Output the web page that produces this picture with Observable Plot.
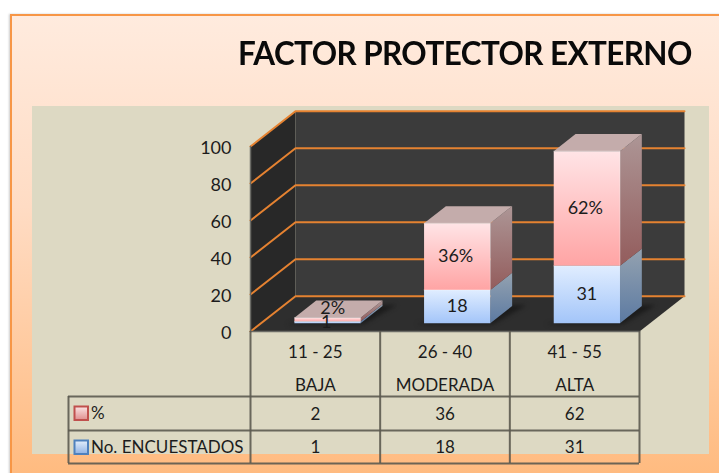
<!DOCTYPE html>
<html>
<head>
<meta charset="utf-8">
<script src="https://cdn.jsdelivr.net/npm/d3@7"></script>
<script src="https://cdn.jsdelivr.net/npm/@observablehq/plot@0.6"></script>
<style>
  html, body { margin: 0; padding: 0; background: #fff; overflow: hidden; }
  #stage { position: relative; width: 719px; height: 473px; overflow: hidden; font-family: Lato, sans-serif; }
  #panel { position: absolute; left: 10px; top: 14px; width: 730px; height: 480px; box-sizing: border-box;
           border: 2px solid #F79646; background: linear-gradient(#FFEBDE, #FFDCC4 40%, #FFBB80 96%); box-shadow: -1px 0 2px #ccc; }
  #plotarea { position: absolute; left: 32px; top: 106px; width: 677px; height: 348px; background: #DDD9C3; }
  #title { position: absolute; left: 238px; top: 30px; font-weight: 700; font-size: 33px; line-height: 44px; color: #0a0a0a;
           white-space: nowrap; letter-spacing: -0.6px; transform: scaleX(0.952); transform-origin: left center; }
  #chart { position: absolute; left: 0; top: 0; }
  #chart svg { background: transparent; display: block; }
</style>
</head>
<body>
<div id="stage">
  <div id="panel"></div>
  <div id="plotarea"></div>
  <div id="title">FACTOR PROTECTOR EXTERNO</div>
  <div id="chart"></div>
</div>
<script>
// Data
const ranges = ["11 - 25", "26 - 40", "41 - 55"];
const levels = ["BAJA", "MODERADA", "ALTA"];
const percent = [2, 36, 62];
const respondents = [1, 18, 31];
const seriesNames = ["%", "No. ENCUESTADOS"];
const yTicks = [0, 20, 40, 60, 80, 100];

// Frame of the front plane of the 3D box
const frame = {left: 250, right: 639, top: 146, bottom: 331};
const xUnit = (frame.right - frame.left) / ranges.length;
const yUnit = (frame.bottom - frame.top) / 100;
const X = px => (px - frame.left) / xUnit;
const Y = py => (frame.bottom - py) / yUnit;

// Oblique projection: depth 0 = front of floor, 1 = back wall
const depthX = 45 / xUnit, depthY = 35.3 / yUnit;
const proj = (x, v, d) => ({x: x + d * depthX, y: v + d * depthY});
const poly = (pts, fill, opts = {}) => Plot.line(pts, {x: "x", y: "y", fill, stroke: "none", ...opts});

const barD0 = 0.235, barD1 = 0.72, barL = 0.257, barR = 0.768;

const gradients = () => {
  const defs = d3.create("svg:defs");
  const add = (id, a, b) => {
    const g = defs.append("linearGradient").attr("id", id).attr("x1", 0).attr("y1", 0).attr("x2", 0).attr("y2", 1);
    g.append("stop").attr("offset", "0%").attr("stop-color", a);
    g.append("stop").attr("offset", "100%").attr("stop-color", b);
  };
  add("pinkFront", "#FFE4E6", "#FFA4A4");
  add("blueFront", "#E0EDFF", "#A3C5F9");
  add("pinkSide", "#AD9696", "#935C5C");
  add("blueSide", "#94A2B0", "#5C7AA2");
  add("pinkKey", "#FBE4E4", "#E08E8E");
  add("blueKey", "#E4EEFB", "#8FB2E4");
  return defs.node();
};

const marks = [gradients];

// Walls and floor
marks.push(poly([proj(0,0,0), proj(0,100,0), proj(0,100,1), proj(0,0,1)], "#282828"));
marks.push(poly([proj(0,0,1), proj(0,100,1), proj(3,100,1), proj(3,0,1)], "#3B3B3B"));
marks.push(poly([proj(0,0,0), proj(0,0,1), proj(3,0,1), proj(3,0,0)], "#2E2E2E"));

// Gridlines
for (const v of yTicks) {
  marks.push(Plot.line([proj(0,v,0), proj(0,v,1), proj(3,v,1)],
    {x: "x", y: "y", stroke: "#E58231", strokeWidth: 2}));
}
// Left wall edge and front floor edge
marks.push(Plot.line([proj(0,100,0), proj(0,0,0), proj(3,0,0)], {x:"x", y:"y", stroke:"#6b6b66", strokeWidth:1.5}));

// Bars
const rim = {stroke: "#ffffff", strokeOpacity: 0.35, strokeWidth: 1};
ranges.forEach((r, i) => {
  const L = i + barL, R = i + barR;
  const a = respondents[i], b = a + percent[i];
  // shadow on the floor
  marks.push(poly([proj(L - 0.05,0,barD0 - 0.03), proj(R + 0.03,0,barD0 - 0.03), proj(R + 0.1,0,barD1 + 0.03), proj(R - 0.1,0,barD1 + 0.03)],
    "#151515", {fillOpacity: 0.75, imageFilter: "blur(2px)"}));
  // side faces
  marks.push(poly([proj(R,0,barD0), proj(R,a,barD0), proj(R,a,barD1), proj(R,0,barD1)], "url(#blueSide)"));
  marks.push(poly([proj(R,a,barD0), proj(R,b,barD0), proj(R,b,barD1), proj(R,a,barD1)], "url(#pinkSide)"));
  // top
  marks.push(poly([proj(L,b,barD0), proj(R,b,barD0), proj(R,b,barD1), proj(L,b,barD1)], "#C4ACAB"));
  // front faces
  marks.push(poly([proj(L,0,barD0), proj(R,0,barD0), proj(R,a,barD0), proj(L,a,barD0)], "url(#blueFront)"));
  marks.push(poly([proj(L,a,barD0), proj(R,a,barD0), proj(R,b,barD0), proj(L,b,barD0)], "url(#pinkFront)", rim));
});

// Bar labels
const txt = {fontSize: 17, fill: "#1c1c1c", fontFamily: "Lato, sans-serif"};
const barTxt = {...txt, fontSize: 18};
const labelNudgeY = [6.2, 0, 0], labelNudgeX = [0.04, -0.012, -0.012], countNudgeX = [-0.01, 0, 0];
const barCx = i => i + (barL + barR) / 2 + barD0 * depthX;
marks.push(Plot.text(ranges, {...barTxt, x: (d, i) => barCx(i) + labelNudgeX[i],
  y: (d, i) => respondents[i] + percent[i] / 2 + barD0 * depthY + labelNudgeY[i],
  text: (d, i) => percent[i] + "%"}));
marks.push(Plot.text(ranges, {...barTxt, x: (d, i) => barCx(i) + countNudgeX[i],
  y: (d, i) => respondents[i] / 2 + barD0 * depthY,
  text: (d, i) => String(respondents[i])}));

// Y axis
marks.push(Plot.axisY(yTicks, {anchor: "left", tickSize: 0, tickPadding: 19, label: null, fontSize: 18, dy: 1.5, fill: "#1c1c1c", fontFamily: "Lato, sans-serif"}));

// Data table grid
const rowLines = [Y(396), Y(430), Y(463)];
const line = {stroke: "#5c5a50", strokeWidth: 2, strokeOpacity: 0.9};
marks.push(Plot.ruleX([0, 1, 2, 3], {...line, y1: 0, y2: rowLines[2]}));
marks.push(Plot.ruleX([X(68)], {...line, y1: rowLines[0], y2: rowLines[2]}));
marks.push(Plot.ruleY(rowLines, {...line, x1: X(68), x2: 3}));

// Data table text
const colX = (d, i) => i + 0.5;
marks.push(Plot.text(ranges, {...txt, x: colX, y: Y(352), text: d => d}));
marks.push(Plot.text(levels, {...txt, x: colX, y: Y(385), text: d => d}));
marks.push(Plot.text(percent, {...txt, x: colX, y: Y(414), text: d => String(d)}));
marks.push(Plot.text(respondents, {...txt, x: colX, y: Y(447), text: d => String(d)}));
marks.push(Plot.text(seriesNames, {...txt, x: X(90.5), y: (d, i) => Y(i ? 447 : 413), text: d => d, textAnchor: "start"}));

// Legend keys
marks.push(Plot.rect(seriesNames, {x1: X(74.5), x2: X(88),
  y1: (d, i) => Y(i ? 454 : 420), y2: (d, i) => Y(i ? 440.5 : 406.5),
  fill: (d, i) => i ? "url(#blueKey)" : "url(#pinkKey)",
  stroke: (d, i) => i ? "#4F81BD" : "#C0504D", strokeWidth: 2}));

const chart = Plot.plot({
  width: 719,
  height: 473,
  marginLeft: frame.left,
  marginRight: 719 - frame.right,
  marginTop: frame.top,
  marginBottom: 473 - frame.bottom,
  x: {domain: [0, 3], axis: null},
  y: {domain: [0, 100], axis: null},
  color: {type: "identity"},
  style: {background: "transparent", fontFamily: "Lato, sans-serif"},
  marks
});
document.getElementById("chart").append(chart);
</script>
</body>
</html>
